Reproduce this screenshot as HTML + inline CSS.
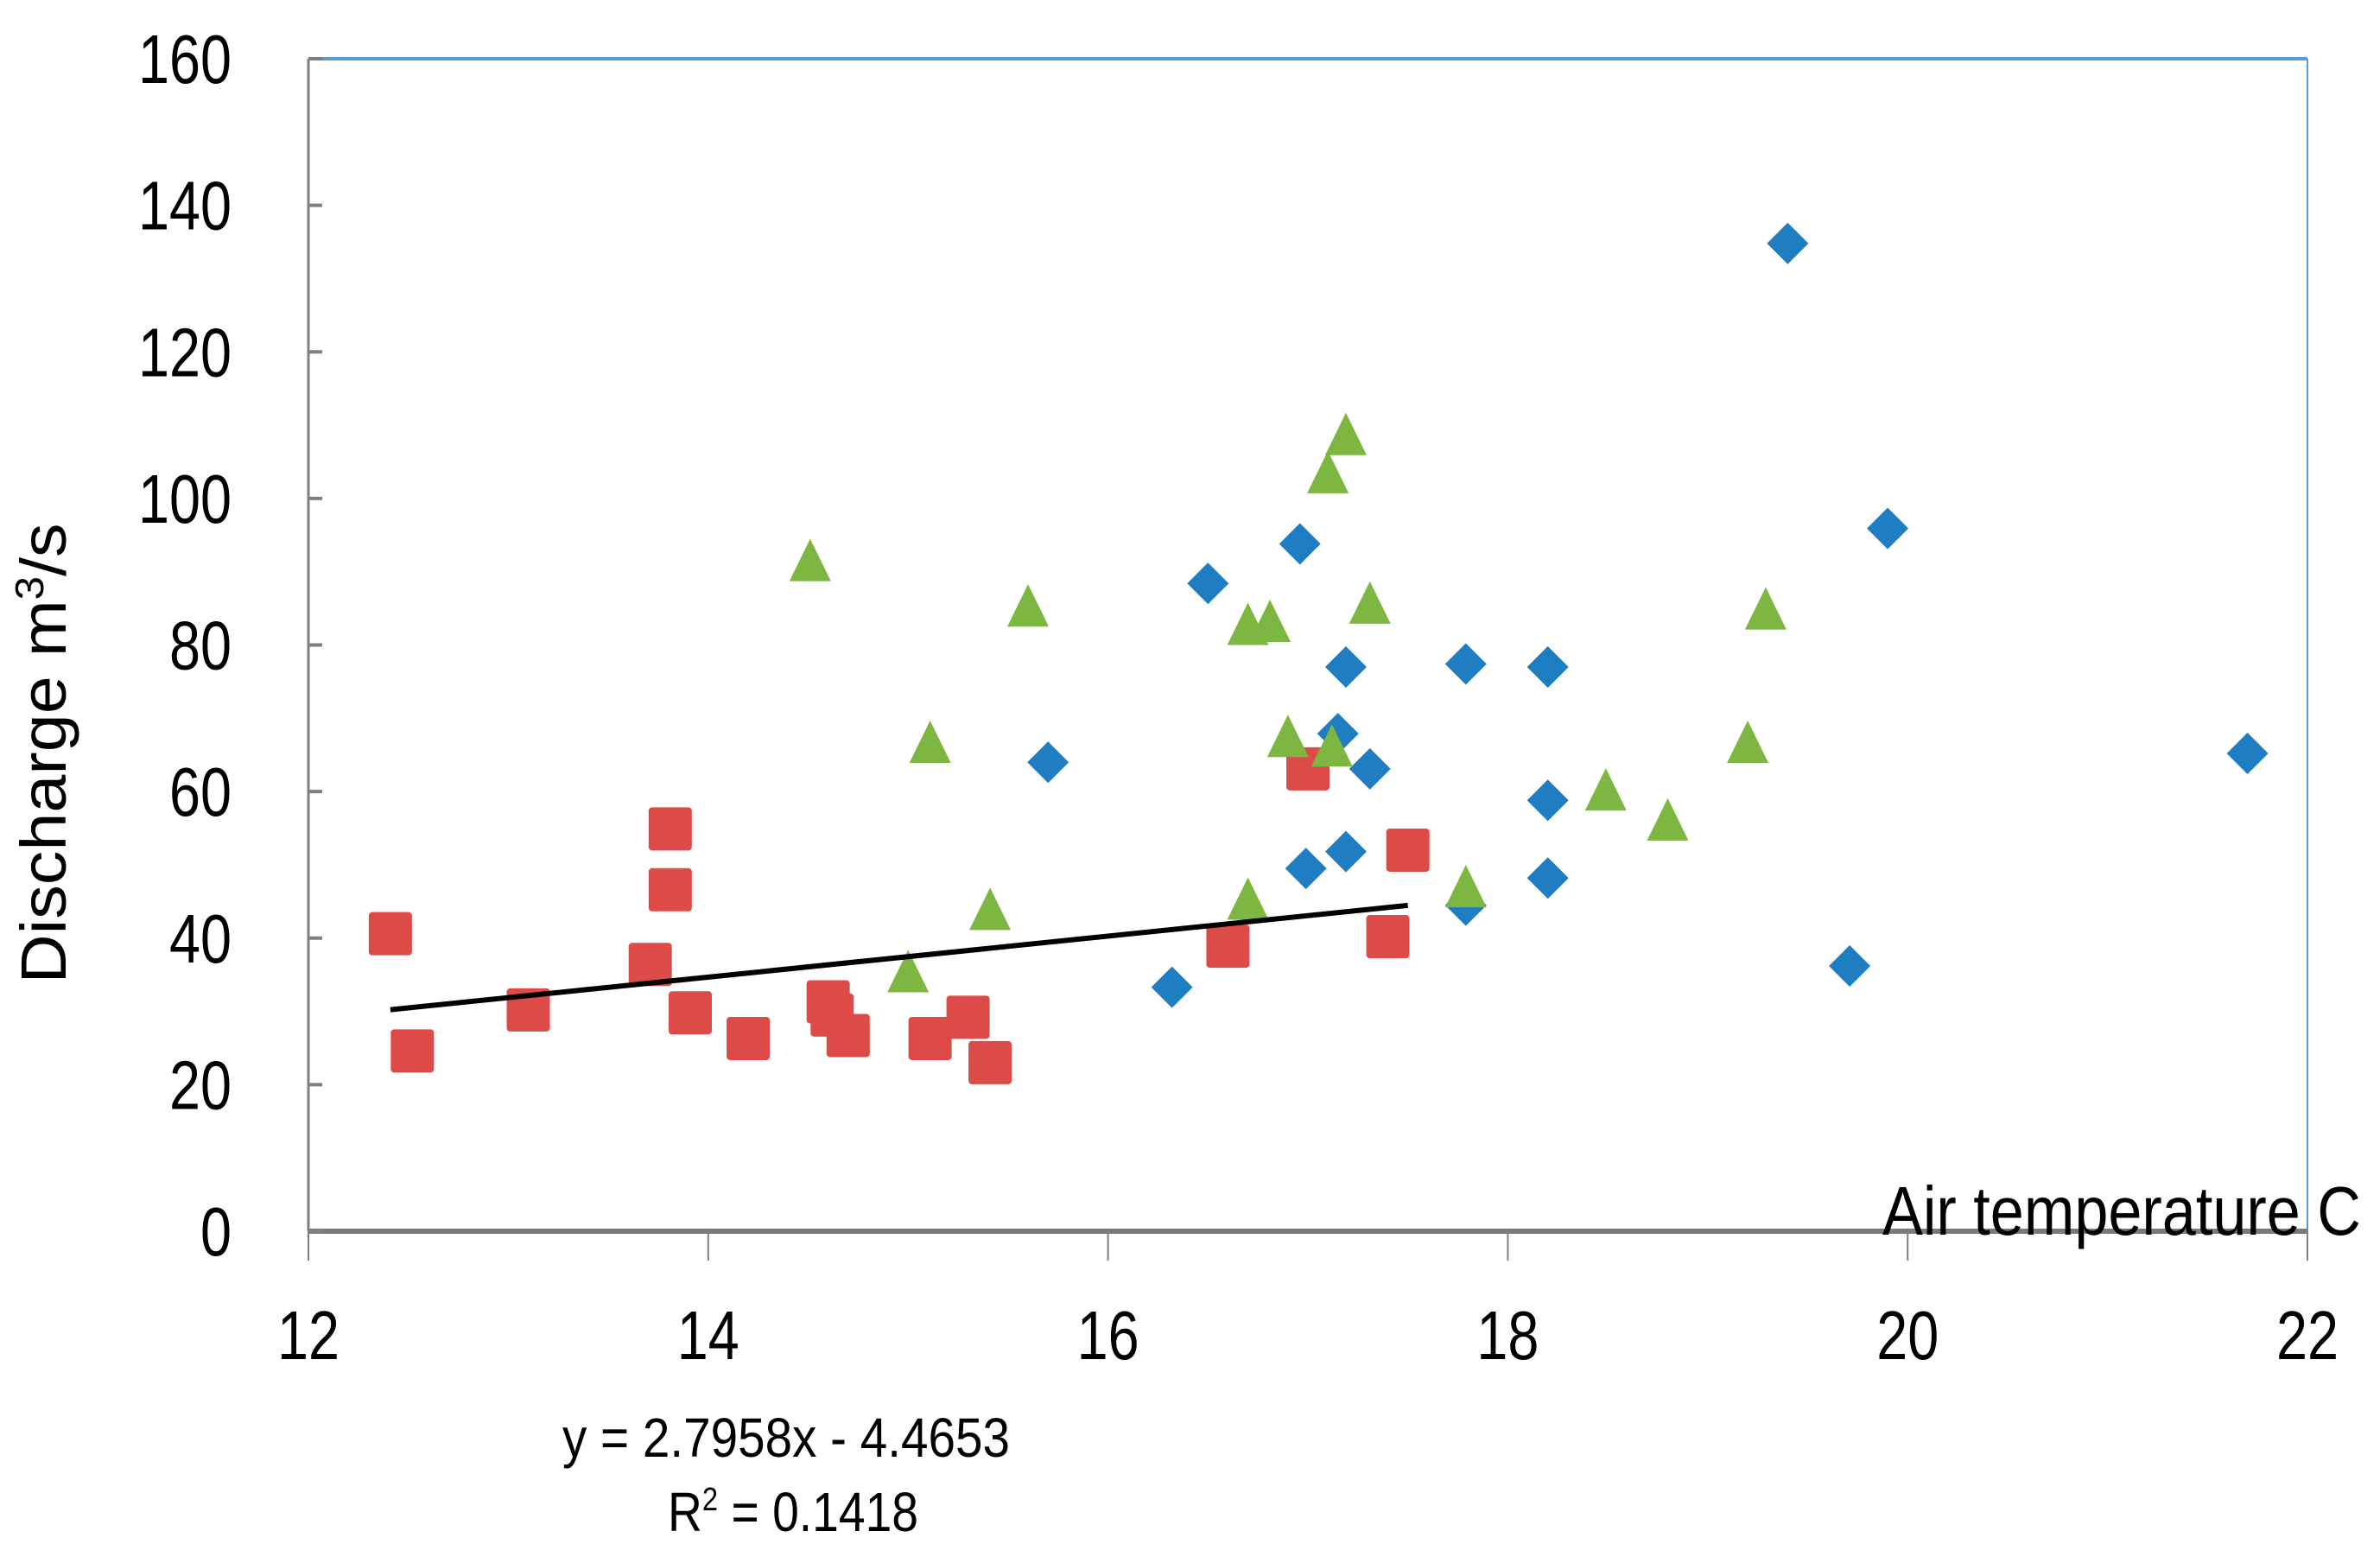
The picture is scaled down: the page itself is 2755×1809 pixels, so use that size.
<!DOCTYPE html>
<html><head><meta charset="utf-8"><style>
html,body{margin:0;padding:0;background:#fff;}
svg{display:block;font-family:"Liberation Sans Narrow","Liberation Sans",sans-serif;}
</style></head><body>
<svg id="chart" width="2755" height="1809" viewBox="0 0 2755 1809" xmlns="http://www.w3.org/2000/svg"></svg>
<script>
const xTicks=[12,14,16,18,20,22];
const yTicks=[0,20,40,60,80,100,120,140,160];
const blueX=[19.40,19.90,21.70,19.71,16.50,16.96,17.19,17.15,17.31,17.19,16.99,15.70,16.32,17.79,18.20,18.20,18.20,17.79];
const blueY=[134.8,95.9,65.2,36.2,88.4,93.8,77.0,67.9,63.1,51.8,49.5,64.0,33.3,77.4,77.0,58.8,48.2,44.5];
const redX=[12.41,12.52,13.10,13.71,13.81,13.81,13.91,14.20,14.60,14.62,14.70,15.11,15.30,15.41,16.60,17.00,17.40,17.50];
const redY=[40.6,24.6,30.2,36.4,54.9,46.6,29.8,26.3,31.3,29.5,26.7,26.3,29.2,23.0,38.9,63.1,40.2,52.0];
const greenX=[14.51,15.60,15.11,15.41,15.00,16.70,16.81,17.19,17.10,17.31,16.90,17.12,16.70,17.79,18.49,18.80,19.20,19.29];
const greenY=[91.3,85.1,66.5,43.7,35.2,82.6,83.0,108.5,103.3,85.5,67.3,66.0,45.1,46.8,60.0,55.9,66.5,84.7];
const trendSlope=2.7958, trendIntercept=-4.4653, trendX=[12.41,17.50];

const NS="http://www.w3.org/2000/svg";
const svg=document.getElementById('chart');
const L=357,R=2671,T=68,B=1425;
const xs=v=>L+(v-12)/(22-12)*(R-L);
const ys=v=>B-(v-0)/(160-0)*(B-T);
function mk(tag,attrs,parent){const e=document.createElementNS(NS,tag);for(const k in attrs)e.setAttribute(k,attrs[k]);(parent||svg).appendChild(e);return e;}

let e=mk('line',{x1:L,y1:T,x2:R,y2:T,stroke:'#5b9bd5','stroke-width':4});


e=mk('line',{x1:R,y1:T,x2:R,y2:B,stroke:'#5b9bd5','stroke-width':2});


e=mk('line',{x1:L,y1:T,x2:L,y2:B,stroke:'#808080','stroke-width':3});


e=mk('line',{x1:L,y1:B,x2:R,y2:B,stroke:'#7a7a7a','stroke-width':6});



yTicks.forEach(v=>{
  const t=mk('line',{x1:L,y1:ys(v),x2:L+16,y2:ys(v),stroke:'#808080','stroke-width':4});
  
  
  const s=String(v);
  const lb=mk('text',{x:268,y:ys(v)+28,'text-anchor':'end','font-size':80,fill:'#000',textLength:s.length*36,lengthAdjust:'spacingAndGlyphs'});
  lb.textContent=s;
  
  
});
xTicks.forEach(v=>{
  const t=mk('line',{x1:xs(v),y1:B,x2:xs(v),y2:B+34,stroke:'#808080','stroke-width':2});
  
  
  const s=String(v);
  const lb=mk('text',{x:xs(v),y:1573,'text-anchor':'middle','font-size':80,fill:'#000',textLength:s.length*36,lengthAdjust:'spacingAndGlyphs'});
  lb.textContent=s;
  
  
});

blueX.forEach((x,i)=>{
  const cx=xs(x),cy=ys(blueY[i]),h=24;
  const m=mk('polygon',{points:`${cx},${cy-h} ${cx+h},${cy} ${cx},${cy+h} ${cx-h},${cy}`,fill:'#1f7ec1'});
  
  
});
redX.forEach((x,i)=>{
  const cx=xs(x),cy=ys(redY[i]);
  const m=mk('rect',{x:cx-25,y:cy-25,width:50,height:50,rx:4,fill:'#dc4b47'});
  
  
});
greenX.forEach((x,i)=>{
  const cx=xs(x),cy=ys(greenY[i]);
  const m=mk('polygon',{points:`${cx},${cy-27} ${cx+24},${cy+22} ${cx-24},${cy+22}`,fill:'#7db640'});
  
  
});

e=mk('line',{x1:xs(trendX[0]),y1:ys(trendSlope*trendX[0]+trendIntercept),x2:xs(trendX[1]),y2:ys(trendSlope*trendX[1]+trendIntercept),stroke:'#000','stroke-width':6});



e=mk('text',{x:2179,y:1429,'font-size':80,fill:'#000',textLength:554,lengthAdjust:'spacingAndGlyphs'});
e.textContent='Air temperature C';


e=mk('text',{x:0,y:0,'font-size':74,fill:'#000','text-anchor':'middle',transform:'translate(76,872) rotate(-90)',textLength:533,lengthAdjust:'spacingAndGlyphs'});
e.innerHTML='Discharge m<tspan font-size="46" dy="-26">3</tspan><tspan dy="26">/s</tspan>';


e=mk('text',{x:910,y:1686,'font-size':64,fill:'#000','text-anchor':'middle',textLength:518,lengthAdjust:'spacingAndGlyphs'});
e.textContent='y = 2.7958x - 4.4653';


e=mk('text',{x:918,y:1772,'font-size':64,fill:'#000','text-anchor':'middle',textLength:290,lengthAdjust:'spacingAndGlyphs'});
e.innerHTML='R<tspan font-size="38" dy="-24">2</tspan><tspan dy="24"> = 0.1418</tspan>';


</script>
</body></html>
